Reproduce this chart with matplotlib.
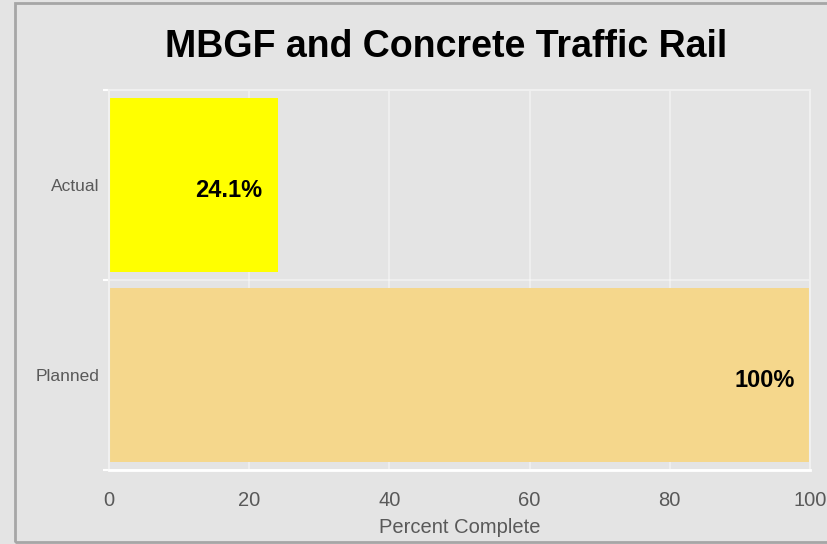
import matplotlib
matplotlib.use('Agg')
import matplotlib.pyplot as plt
from matplotlib.patches import Rectangle

plt.rcParams['font.family'] = ['Liberation Sans', 'DejaVu Sans']

# data
categories = ['Planned', 'Actual']
values = [100, 24.1]
labels = ['100%', '24.1%']
colors = ['#f5d78c', '#ffff00']

fig = plt.figure(figsize=(8.28, 5.44), dpi=100, facecolor='#e4e4e4')
ax = fig.add_axes([109 / 828, 74 / 544, 701 / 828, 380 / 544])
ax.set_facecolor('#e4e4e4')

# outer border of the chart
fig.patches.append(Rectangle((15 / 828, 2 / 544), 1.0, 539 / 544, transform=fig.transFigure,
                             fill=False, edgecolor='#a6a6a6', linewidth=2))

pos = list(range(len(categories)))
ax.barh(pos, values, height=0.92, color=colors, zorder=2)

for p, v, lab in zip(pos, values, labels):
    ax.annotate(lab, xy=(v, p), xytext=(-11, -4), textcoords='offset points',
                ha='right', va='center', fontsize=17, fontweight='bold', color='black', zorder=3)

ax.set_xlim(0, 100)
ax.set_ylim(-0.5, 1.5)
ax.set_xticks([0, 20, 40, 60, 80, 100])
ax.set_xticklabels(['0', '20', '40', '60', '80', '100'])
ax.tick_params(axis='x', length=0, labelsize=14.5, labelcolor='#595959', pad=15)

ax.set_yticks(pos)
ax.set_yticklabels(categories)
ax.tick_params(axis='y', which='major', length=0, labelsize=12.5, labelcolor='#595959', pad=7)
ax.set_yticks([-0.5, 0.5, 1.5], minor=True)
ax.tick_params(axis='y', which='minor', length=4, color='white', width=1.5)

ax.grid(axis='x', which='major', color='white', alpha=0.4, linewidth=1.5, zorder=1)
ax.grid(axis='y', which='minor', color='white', alpha=0.4, linewidth=1.5, zorder=1)
ax.set_axisbelow(True)

for s in ['top', 'right', 'left']:
    ax.spines[s].set_color('#f0f0f0')
    ax.spines[s].set_linewidth(1.5)
ax.spines['bottom'].set_color('white')
ax.spines['bottom'].set_linewidth(2)

ax.set_xlabel('Percent Complete', fontsize=14.5, color='#595959', labelpad=6)
fig.text(446 / 828, 1 - 47 / 544, 'MBGF and Concrete Traffic Rail', ha='center', va='center',
         fontsize=27, fontweight='bold', color='black')

fig.savefig('out.png', dpi=100, facecolor=fig.get_facecolor())
